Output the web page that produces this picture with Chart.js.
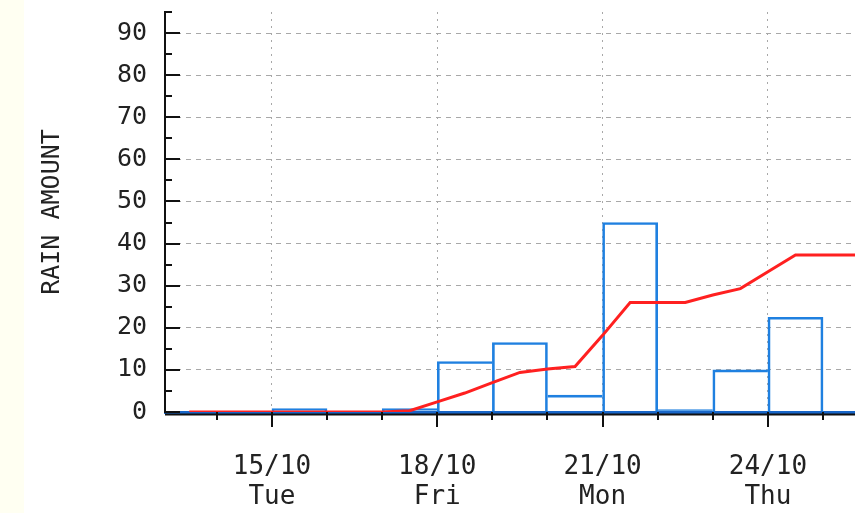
<!DOCTYPE html>
<html>
<head>
<meta charset="utf-8">
<script src="https://cdn.jsdelivr.net/npm/chart.js@4.4.1/dist/chart.umd.min.js"></script>
<style>
  html, body { margin: 0; padding: 0; background: #ffffff; }
  #wrap { position: relative; width: 855px; height: 513px; background: #ffffff; }
  #strip { position: absolute; left: 0; top: 0; width: 24px; height: 513px; background: #fffff2; }
  canvas { position: absolute; left: 0; top: 0; }
</style>
</head>
<body>
<div id="wrap">
  <div id="strip"></div>
  <canvas id="c" width="855" height="513"></canvas>
</div>
<script>
// ---- data (day index 0 = 13/10) ----
const dayLabels = ['13/10','14/10','15/10','16/10','17/10','18/10','19/10','20/10','21/10','22/10','23/10','24/10','25/10'];
const weekdayLabels = ['Sun','Mon','Tue','Wed','Thu','Fri','Sat','Sun','Mon','Tue','Wed','Thu','Fri'];
const labelledDays = [2, 5, 8, 11];
const dailyRain = [0, 0, 0.8, 0, 0.8, 12, 16.5, 4, 45, 0.6, 10, 22.5, 0];
const cumulativeTimes = [0.5, 1, 1.5, 2, 2.5, 3, 3.5, 4, 4.5, 5, 5.5, 6, 6.5, 7, 7.5, 8, 8.5, 9, 9.5, 10, 10.5, 11, 11.5, 12, 12.5, 12.6];
const cumulativeRain  = [0, 0, 0, 0, 0, 0, 0, 0, 0.3, 2.4, 4.5, 7, 9.4, 10.2, 10.8, 18.2, 26, 26, 26, 27.8, 29.3, 33.3, 37.3, 37.3, 37.3, 37.3];
const yTickValues = [0, 10, 20, 30, 40, 50, 60, 70, 80, 90];
const yMinorStep = 5;
const xMin = 0.06, xMax = 12.58, yMin = 0, yMax = 95;

const FONT = "'DejaVu Sans Mono', monospace";
const TEXT = '#222222';

const barData = dailyRain.map((v, i) => ({ x: i + 0.5, y: v }));
const lineData = cumulativeTimes.map((t, i) => ({ x: t, y: cumulativeRain[i] }));

const tickMarks = {
  id: 'tickMarks',
  afterDraw(chart) {
    const { ctx, chartArea, scales } = chart;
    const xs = scales.x, ys = scales.y;
    ctx.save();
    ctx.strokeStyle = '#111';
    ctx.lineWidth = 2;
    // dark line under the blue baseline
    ctx.beginPath();
    ctx.moveTo(chartArea.left, chartArea.bottom + 2.5);
    ctx.lineTo(chartArea.right, chartArea.bottom + 2.5);
    ctx.stroke();
    for (let v = yMin; v <= yMax; v += yMinorStep) {
      const py = Math.round(ys.getPixelForValue(v));
      const len = (v % 10 === 0) ? 15 : 7;
      ctx.beginPath();
      ctx.moveTo(chartArea.left, py);
      ctx.lineTo(chartArea.left + len, py);
      ctx.stroke();
    }
    for (let d = 0; d < dayLabels.length; d++) {
      if (d < xMin || d > xMax) continue;
      const px = Math.round(xs.getPixelForValue(d));
      const len = labelledDays.includes(d) ? 15 : 8;
      ctx.beginPath();
      ctx.moveTo(px, chartArea.bottom);
      ctx.lineTo(px, chartArea.bottom + len);
      ctx.stroke();
    }
    ctx.restore();
  }
};

function barBorder(ctx) {
  const i = ctx.dataIndex;
  if (i === undefined) return 2;
  const v = dailyRain[i];
  const prev = i > 0 ? dailyRain[i - 1] : 0;
  const next = i < dailyRain.length - 1 ? dailyRain[i + 1] : 0;
  return {
    top: 2,
    bottom: 0,
    left: (v > 0 && v >= prev) ? 2 : 0,
    right: (v > next) ? 2 : 0
  };
}

new Chart(document.getElementById('c'), {
  type: 'bar',
  data: {
    datasets: [
      {
        type: 'line',
        label: 'Cumulative',
        data: lineData,
        borderColor: '#ff2020',
        borderWidth: 3,
        pointRadius: 0,
        tension: 0,
        order: 0
      },
      {
        type: 'bar',
        label: 'Daily',
        data: barData,
        backgroundColor: 'rgba(0,0,0,0)',
        borderColor: '#1f80e0',
        borderWidth: barBorder,
        borderSkipped: false,
        barPercentage: 1,
        categoryPercentage: 1,
        order: 1
      }
    ]
  },
  options: {
    responsive: false,
    animation: false,
    devicePixelRatio: 1,
    layout: { padding: { left: 37, top: 12, right: 0, bottom: 5 } },
    plugins: { legend: { display: false }, tooltip: { enabled: false } },
    scales: {
      x: {
        type: 'linear',
        min: xMin,
        max: xMax,
        offset: false,
        afterBuildTicks(scale) {
          scale.ticks = dayLabels.map((_, i) => ({ value: i })).filter(t => t.value >= xMin && t.value <= xMax);
        },
        afterFit(scale) {
          scale.height = 96;
          scale.paddingLeft = 0;
          scale.paddingRight = 0;
        },
        ticks: {
          autoSkip: false,
          maxRotation: 0,
          padding: 40,
          color: TEXT,
          font: { family: FONT, size: 26, lineHeight: 1.15 },
          callback(value) {
            return labelledDays.includes(value) ? [dayLabels[value], weekdayLabels[value]] : '';
          }
        },
        grid: {
          offset: false,
          drawTicks: false,
          lineWidth: 1,
          color(ctx) {
            const v = ctx.tick ? ctx.tick.value : null;
            return labelledDays.includes(v) ? '#a8a8a8' : 'rgba(0,0,0,0)';
          }
        },
        border: { display: true, color: '#1866c8', width: 3, dash: [2, 5] }
      },
      y: {
        type: 'linear',
        min: yMin,
        max: yMax,
        afterBuildTicks(scale) {
          scale.ticks = yTickValues.map(v => ({ value: v }));
        },
        afterFit(scale) {
          scale.width = 128;
          scale.paddingTop = 0;
          scale.paddingBottom = 0;
        },
        ticks: {
          padding: 18,
          color: TEXT,
          font: { family: FONT, size: 25 },
          callback(value) { return String(value); }
        },
        grid: {
          drawTicks: false,
          lineWidth: 1,
          color(ctx) {
            const v = ctx.tick ? ctx.tick.value : null;
            return v === 0 ? 'rgba(0,0,0,0)' : '#a8a8a8';
          }
        },
        border: { display: true, color: '#111', width: 2, dash: [5, 5] },
        title: {
          display: true,
          text: 'RAIN AMOUNT',
          color: TEXT,
          font: { family: FONT, size: 25, lineHeight: 1.2 },
          padding: { top: 0, bottom: 0 }
        }
      }
    }
  },
  plugins: [tickMarks]
});
</script>
</body>
</html>
